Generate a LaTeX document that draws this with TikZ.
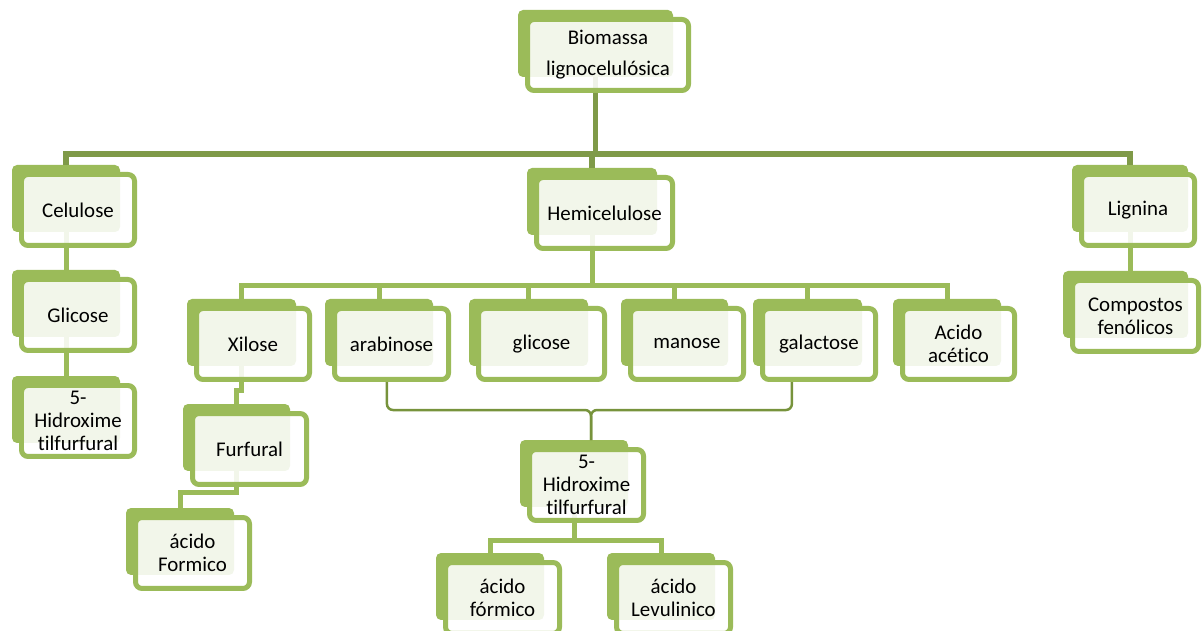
\documentclass[tikz,border=0pt]{standalone}
\usepackage{fontspec}
\setmainfont[Ligatures=NoCommon]{Carlito}
\usetikzlibrary{calc}
\pgfdeclarelayer{back}\pgfdeclarelayer{mid}\pgfsetlayers{back,mid,main}
\definecolor{gr}{HTML}{9BBB59}
\definecolor{dk}{HTML}{7F9A48}
\definecolor{dk2}{HTML}{77933C}
\tikzset{
  backbox/.style={fill=gr, draw=none, rounded corners=0.1cm, minimum height=1.34cm, inner sep=0pt, outer sep=0pt},
  frontbox/.style={draw=gr, line width=0.1cm, rounded corners=0.13cm, fill=white, fill opacity=0.88, text opacity=1,
     minimum height=1.42cm, inner sep=0pt, outer sep=0pt, align=center, font=\fontsize{11.9}{13.2}\selectfont, text=black},
  trunk/.style={draw=dk, line width=0.11cm},
  link/.style={draw=gr, line width=0.1cm},
  bracelink/.style={draw=dk2, line width=0.05cm, rounded corners=0.12cm},
}
\newcommand\gbox[6]{%
  \begin{pgfonlayer}{back}
  \node[backbox, minimum width=#4*0.02cm, anchor=north west] (#1-b) at (#2,#3) {};
  \end{pgfonlayer}
  \node[frontbox, minimum width={(#5-5)*0.02cm}, anchor=north west] (#1) at (#2+9.5,#3+9.5) {#6};
}
\begin{document}
\begin{tikzpicture}[x=0.02cm,y=-0.02cm]
\useasboundingbox (0,0) rectangle (1203,631);
\clip (0,0) rectangle (1203,631);
\gbox{Bio}{518}{10}{155}{166}{Biomassa\\[4.5pt]lignocelulósica}
\gbox{Cel}{12}{165}{108}{118}{Celulose}
\gbox{Gli}{12}{270}{108}{118}{Glicose}
\gbox{HL}{12}{376}{108}{118}{5-\\Hidroxime\\tilfurfural}
\gbox{Hem}{527}{168}{130}{141}{Hemicelulose}
\gbox{Lig}{1072}{165}{116}{118}{Lignina}
\gbox{Comp}{1063}{271}{125}{131}{Compostos\\fenólicos}
\gbox{Xil}{187}{299}{109}{118}{Xilose}
\gbox{Ara}{325}{299}{108}{119}{arabinose}
\gbox{Glc}{469}{299}{119}{131}{glicose}
\gbox{Man}{621}{299}{107}{118}{manose}
\gbox{Gal}{753}{299}{109}{118}{galactose}
\gbox{Aca}{893}{299}{108}{117}{Acido\\acético}
\gbox{Fur}{183}{404}{107}{119}{Furfural}
\gbox{For}{126}{508}{108}{119}{ácido\\Formico}
\gbox{HC}{520}{440}{108}{119}{5-\\Hidroxime\\tilfurfural}
\gbox{Fo}{436}{553}{108}{119}{ácido\\fórmico}
\gbox{Lev}{607}{553}{108}{119}{ácido\\Levulinico}

\coordinate (bar1) at (0,154);
\coordinate (bar2) at (0,286);
\coordinate (j1) at (0,390);
\coordinate (j2) at (0,492);
\coordinate (br) at (591,410);
\coordinate (j3) at (0,540);

\begin{pgfonlayer}{mid}
% top level
\draw[trunk] (Cel-b.north) -- (Cel-b.north |- bar1) -- (Lig-b.north |- bar1) -- (Lig-b.north);
\draw[trunk] (Bio-b.south) -- (Bio-b.south |- bar1);
\draw[trunk] (Hem-b.north) -- (Hem-b.north |- bar1);
% left column
\draw[link] (Cel-b.south) -- (Gli-b.north);
\draw[link] (Gli-b.south) -- (HL-b.north);
% right column
\draw[link] (Lig-b.south) -- (Lig-b.south |- Comp-b.north);
% hemicellulose children
\draw[link] (Hem-b.south) -- (Hem-b.south |- bar2);
\draw[link] (Xil-b.north) -- (Xil-b.north |- bar2) -- (Aca-b.north |- bar2) -- (Aca-b.north);
\draw[link] (Ara-b.north) -- (Ara-b.north |- bar2);
\draw[link] (Glc-b.north) -- (Glc-b.north |- bar2);
\draw[link] (Man-b.north) -- (Man-b.north |- bar2);
\draw[link] (Gal-b.north) -- (Gal-b.north |- bar2);
% xilose chain
\draw[link] (Xil-b.south) -- (Xil-b.south |- j1) -- (Fur-b.north |- j1) -- (Fur-b.north);
\draw[link] (Fur-b.south) -- (Fur-b.south |- j2) -- (For-b.north |- j2) -- (For-b.north);
% brace to 5-HMF
\draw[bracelink] ($(Ara.south west)!0.46!(Ara.south east)$) |- (br) -- (br |- HC-b.north);
\draw[bracelink] ($(Gal.south west)!0.26!(Gal.south east)$) |- (br) -- (br |- HC-b.north);
% 5-HMF children
\draw[link] (HC-b.south) -- (HC-b.south |- j3);
\draw[link] (Fo-b.north) -- (Fo-b.north |- j3) -- (Lev-b.north |- j3) -- (Lev-b.north);
\end{pgfonlayer}
\end{tikzpicture}
\end{document}
